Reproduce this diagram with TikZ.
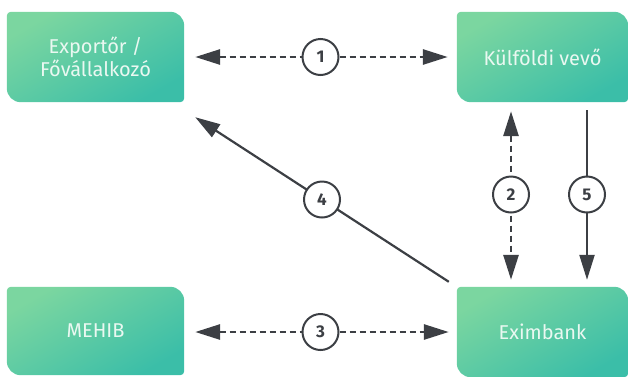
\documentclass[tikz,border=0pt]{standalone}
\usepackage{fontspec}
\setmainfont{Fira Sans}
\usepackage{xcolor}
\usepackage{tikz}
\usetikzlibrary{arrows.meta, positioning, backgrounds, calc}

\definecolor{boxlight}{HTML}{7BD6A0}
\definecolor{boxdark}{HTML}{3BBEA8}
\definecolor{boxtext}{HTML}{EAF8F1}
\definecolor{flowgray}{HTML}{3C3F44}

\tikzset{
  party/.style={minimum width=177bp,minimum height=90bp,inner sep=0pt,text=boxtext,align=center,font=\fontsize{20bp}{23bp}\selectfont},
  partyfill/.style={left color=boxlight,right color=boxdark,shading angle=30},
  flow/.style={draw=flowgray,line width=2.2bp,-{Triangle[length=25bp,width=15bp]}},
  flowboth/.style={flow,{Triangle[length=25bp,width=15bp]}-{Triangle[length=25bp,width=15bp]}},
  promise/.style={dash pattern=on 6bp off 4bp,line width=2.8bp},
  stepnum/.style={circle,draw=flowgray,solid,line width=2bp,fill=white,minimum size=36bp,inner sep=0pt,text=flowgray,font=\bfseries\fontsize{17bp}{17bp}\selectfont}
}

\begin{document}
\begin{tikzpicture}[x=1bp,y=-1bp]%
\useasboundingbox (0,0) rectangle (629,376);%
\node[party] (exporter) at (95.5,57) {Exportőr /\\Fővállalkozó};%
\node[party,minimum width=171bp] (buyer) at (542.5,57) {Külföldi vevő};%
\node[party,minimum height=88bp] (mehib) at (95.5,331) {MEHIB};%
\node[party,minimum width=171bp] (eximbank) at (542.5,332) {Eximbank};%
% green boxes behind the labels
\begin{scope}[on background layer]%
\foreach \n in {exporter,buyer,mehib,eximbank}%
  \shade[partyfill] (\n.west) [rounded corners=4bp] -- (\n.north west) [rounded corners=14bp] -- (\n.north east) [rounded corners=4bp] -- (\n.south east) [rounded corners=14bp] -- (\n.south west) [sharp corners] -- cycle;%
\end{scope}%
% numbered flows
\draw[flowboth,promise,shorten <=11bp,shorten >=9bp] (exporter) -- node[stepnum] (s1) {1} (buyer);%
\draw[flowboth,promise,shorten <=9bp,shorten >=7bp] ([xshift=-31.5bp]buyer.south) -- node[stepnum] (s2) {2} ([xshift=-31.5bp]eximbank.north);%
\draw[flowboth,promise,shorten <=11bp,shorten >=8bp] (mehib.east |- eximbank) -- node[stepnum] (s3) {3} (eximbank.west);%
\draw[flow] ([shift={(-8bp,5bp)}]eximbank.north west) -- node[stepnum] (s4) {4} ([shift={(11bp,-15bp)}]exporter.south east);%
\draw[flow,shorten <=8bp,shorten >=7bp] ([xshift=44.5bp]buyer.south) -- node[stepnum] (s5) {5} ([xshift=44.5bp]eximbank.north);%
\end{tikzpicture}
\end{document}
